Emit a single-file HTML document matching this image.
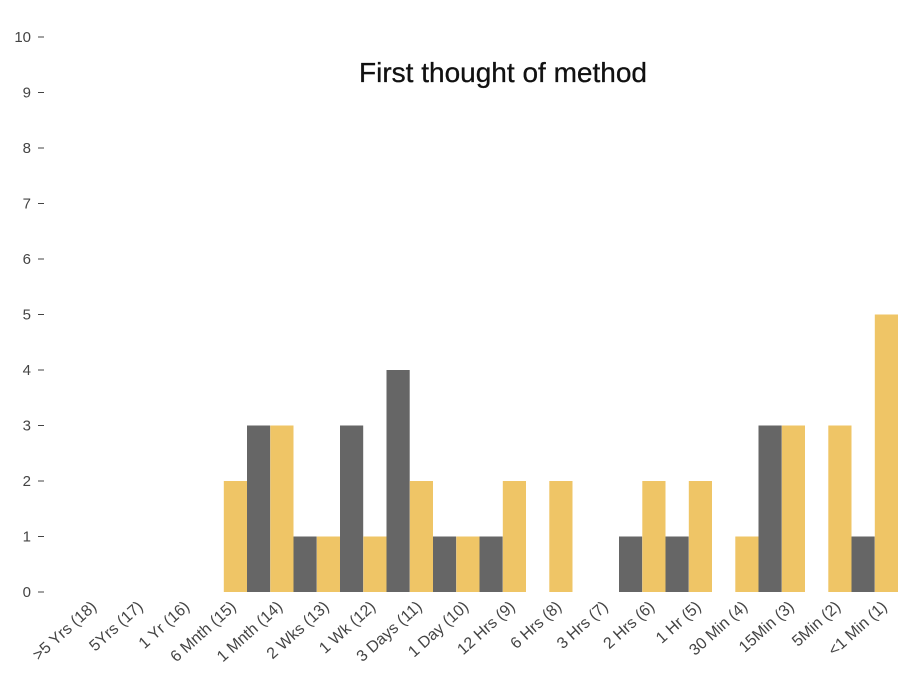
<!DOCTYPE html>
<html><head><meta charset="utf-8"><style>
body{margin:0;background:#fff;}
svg{display:block;font-family:"Liberation Sans",sans-serif;}
</style></head><body>
<svg id="chart" width="919" height="688">
<text x="503" y="82" text-anchor="middle" font-size="28" fill="#111" stroke="#111" stroke-width="0.3">First thought of method</text>
<g id="yaxis"></g>
<g id="bars"></g>
<g id="xaxis"></g>
</svg>
<script>
const categories = [">5 Yrs (18)","5Yrs (17)","1 Yr (16)","6 Mnth (15)","1 Mnth (14)","2 Wks (13)","1 Wk (12)","3 Days (11)","1 Day (10)","12 Hrs (9)","6 Hrs (8)","3 Hrs (7)","2 Hrs (6)","1 Hr (5)","30 Min (4)","15Min (3)","5Min (2)","<1 Min (1)"];
const yellowValues = [0,0,0,2,3,1,1,2,1,2,2,0,2,2,1,3,3,5];
const grayValues = [0,0,0,3,1,3,4,1,1,0,0,1,1,0,3,0,1,0];
const yTicks = [0,1,2,3,4,5,6,7,8,9,10];

const NS="http://www.w3.org/2000/svg";
const y0=592, yTop=37, yMax=10;
function yScale(v){return y0-(y0-yTop)*v/yMax;}
const c0=107.5, step=46.5, bw=23.2;
function xScale(i){return c0+i*step;}
function mk(tag,attrs,parent){const e=document.createElementNS(NS,tag);for(const k in attrs)e.setAttribute(k,attrs[k]);parent.appendChild(e);return e;}
const ya=document.getElementById('yaxis'), bars=document.getElementById('bars'), xa=document.getElementById('xaxis');
yTicks.forEach(t=>{
  const y=yScale(t);
  const tx=mk('text',{x:31,y:y+5,'text-anchor':'end','font-size':15,fill:'#444'},ya);
  tx.textContent=t;
  
  
  const ln=mk('line',{x1:38,x2:44,y1:y,y2:y,stroke:'#444','stroke-width':1},ya);
  
  
});
categories.forEach((c,i)=>{
  const cx=xScale(i);
  if(yellowValues[i]>0){
    const r=mk('rect',{x:cx-bw,y:yScale(yellowValues[i]),width:bw,height:y0-yScale(yellowValues[i]),fill:'#EFC566'},bars);
    
    
  }
  if(grayValues[i]>0){
    const r=mk('rect',{x:cx,y:yScale(grayValues[i]),width:bw,height:y0-yScale(grayValues[i]),fill:'#666666'},bars);
    
    
  }
  const lx=cx-10, ly=608;
  const t=mk('text',{x:lx,y:ly,'text-anchor':'end','font-size':16,fill:'#444',transform:`rotate(-42 ${lx} ${ly})`},xa);
  t.textContent=c;
  
  
});
</script>
</body></html>
